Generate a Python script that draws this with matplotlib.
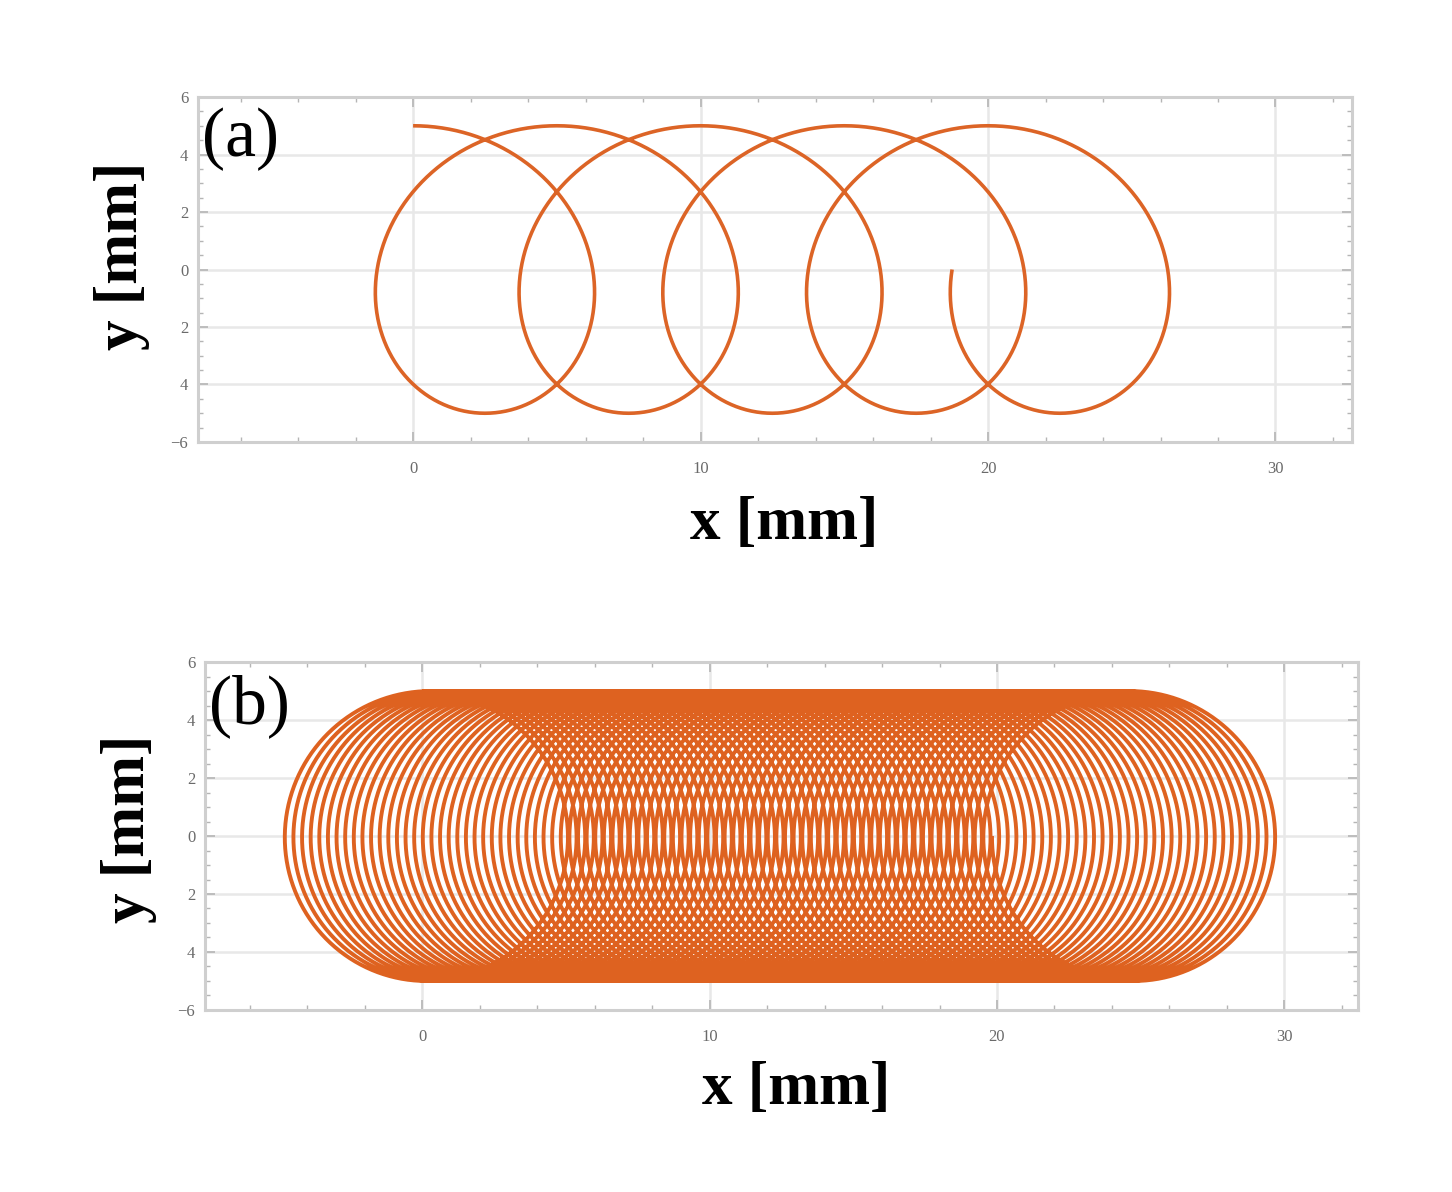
import numpy as np
import matplotlib.pyplot as plt
from matplotlib.ticker import MultipleLocator, FixedLocator, FixedFormatter

# trajectory parameters (mm)
radius = 5.0
pitch_a = 5.0        # x advance per turn, panel (a)
turns_a = 4.75       # curve stops at the left side of the 5th loop
pitch_b = 0.3        # panel (b): very tight loops
turns_b = 82.75

yticks = [-6, -4, -2, 0, 2, 4, 6]
ytick_labels = ["\u22126", "4", "2", "0", "2", "4", "6"]
xticks = [0, 10, 20, 30]
xtick_labels = ["0", "10", "20", "30"]

line_color = "#dc6426"
line_color_b = "#de6220"
frame_color = "#cfcfcf"
grid_color = "#e8e8e8"
tick_color = "#6a6a6a"
serif = ["Liberation Serif", "DejaVu Serif"]


def trochoid(pitch, turns, pts_per_turn=720):
    th = np.linspace(0, 2 * np.pi * turns, int(pts_per_turn * turns) + 1)
    x = pitch / (2 * np.pi) * th + radius * np.sin(th)
    y = radius * np.cos(th)
    return x, y


def style_axes(ax, xlim):
    ax.set_xlim(*xlim)
    ax.set_ylim(-6, 6)
    ax.xaxis.set_major_locator(FixedLocator(xticks))
    ax.xaxis.set_major_formatter(FixedFormatter(xtick_labels))
    ax.xaxis.set_minor_locator(MultipleLocator(2))
    ax.yaxis.set_major_locator(FixedLocator(yticks))
    ax.yaxis.set_major_formatter(FixedFormatter(ytick_labels))
    ax.yaxis.set_minor_locator(MultipleLocator(0.5))
    ax.tick_params(which="both", direction="in", top=True, right=True,
                   color="#b5b5b5", labelcolor=tick_color, labelsize=12)
    ax.tick_params(which="major", length=7, width=1.2)
    ax.tick_params(which="minor", length=3.5, width=1.0)
    ax.tick_params(axis="x", pad=14)
    ax.tick_params(axis="y", pad=7)
    for lab in ax.get_xticklabels() + ax.get_yticklabels():
        lab.set_family(serif)
    for sp in ax.spines.values():
        sp.set_color(frame_color)
        sp.set_linewidth(2.2)
    for gx in xticks:
        ax.axvline(gx, color=grid_color, lw=1.8, zorder=0)
    for gy in yticks[1:-1]:
        ax.axhline(gy, color=grid_color, lw=1.8, zorder=0)


fig = plt.figure(figsize=(14.52, 11.92), dpi=100)

# panel (a)
ax1 = fig.add_axes([0.1364, 0.6292, 0.7947, 0.2894])
xa, ya = trochoid(pitch_a, turns_a)
ax1.plot(xa, ya, color=line_color, lw=2.6, solid_capstyle="butt")
style_axes(ax1, (-7.48, 32.66))

# panel (b)
ax2 = fig.add_axes([0.1412, 0.1527, 0.7941, 0.2919])
xb, yb = trochoid(pitch_b, turns_b)
ax2.plot(xb, yb, color=line_color_b, lw=2.8, solid_capstyle="butt")
style_axes(ax2, (-7.55, 32.56))

# panel letters
fig.text(0.139, 0.883, "(a)", family=serif, fontsize=50, va="center", ha="left")
fig.text(0.144, 0.408, "(b)", family=serif, fontsize=50, va="center", ha="left")

# axis labels
lab_kw = dict(family=serif, fontsize=44, fontweight="bold", ha="center", va="center")
fig.text(0.540, 0.560, "x [mm]", **lab_kw)
fig.text(0.548, 0.086, "x [mm]", **lab_kw)
fig.text(0.084, 0.785, "y [mm]", rotation=90, **lab_kw)
fig.text(0.089, 0.305, "y [mm]", rotation=90, **lab_kw)

fig.savefig("out.png", dpi=100, facecolor="white")
